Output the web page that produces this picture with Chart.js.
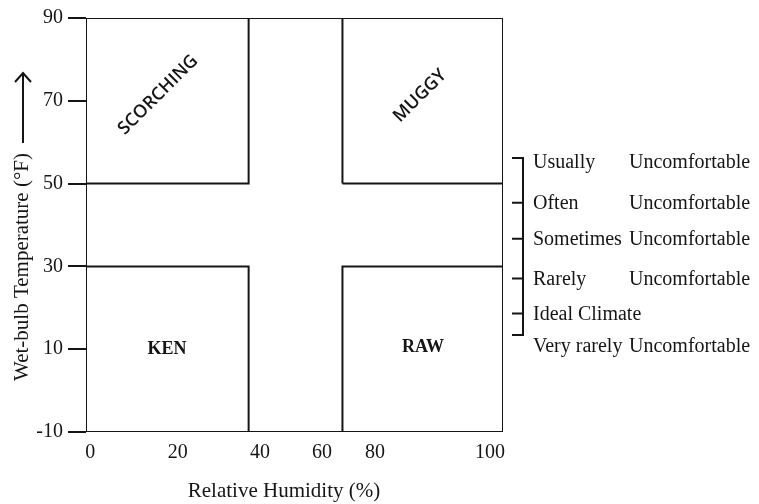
<!DOCTYPE html>
<html>
<head>
<meta charset="utf-8">
<title>Wet-bulb temperature vs relative humidity</title>
<script src="https://cdn.jsdelivr.net/npm/chart.js@4.4.1/dist/chart.umd.min.js"></script>
<style>
  html, body { margin: 0; padding: 0; background: #fff; }
  #chart { display: block; }
</style>
</head>
<body>
<canvas id="chart" width="759" height="504"></canvas>
<script>
// axis ticks
const yTicks = [-10, 10, 30, 50, 70, 90];
const xTickLabels = ["0", "20", "40", "60", "80", "100"];
const xTickPos = [1, 22, 41.7, 56.6, 69.3, 96.9]; // where the labels sit on the drawing

// the four corner zones
const zoneNames = ["SCORCHING", "MUGGY", "KEN", "RAW"];
const zoneX0 = [0, 61.5, 0, 61.5];
const zoneX1 = [39, 100, 39, 100];
const zoneY0 = [50, 50, -10, -10];
const zoneY1 = [90, 90, 30, 30];
const zoneLabelX = [17.3, 80.1, 19.4, 80.8];
const zoneLabelY = [71.4, 71.2, 10, 10.4];

// comfort scale on the right
const comfortFirst = ["Usually", "Often", "Sometimes", "Rarely", "Ideal Climate", "Very rarely"];
const comfortSecond = ["Uncomfortable", "Uncomfortable", "Uncomfortable", "Uncomfortable", "", "Uncomfortable"];
const comfortLevels = [55.3, 45.4, 36.7, 27.1, 18.6, 11.0];
const bracketTicks = [56.2, 45.4, 36.7, 27.1, 18.6, 13.4];

const INK = "#151515";
const SERIF = '"Liberation Serif", "Times New Roman", serif';
const SANS = '"Open Sans", "Noto Sans", sans-serif';

function rect(x0, x1, y0, y1) {
  return [
    { x: x0, y: y0 }, { x: x1, y: y0 }, { x: x1, y: y1 },
    { x: x0, y: y1 }, { x: x0, y: y0 }
  ];
}

const lineStyle = {
  showLine: true,
  fill: false,
  borderColor: INK,
  borderWidth: 2,
  pointRadius: 0,
  tension: 0
};

const datasets = [
  Object.assign({ label: "frame", data: rect(0, 100, -10, 90) }, lineStyle)
].concat(zoneNames.map((name, i) =>
  Object.assign({ label: name, data: rect(zoneX0[i], zoneX1[i], zoneY0[i], zoneY1[i]) }, lineStyle)
));

// zone names, y-axis arrow and the comfort bracket
const annotations = {
  id: "annotations",
  afterDraw(chart) {
    const { ctx, chartArea, scales: { x, y } } = chart;
    ctx.save();
    ctx.fillStyle = INK;
    ctx.strokeStyle = INK;

    zoneNames.forEach((name, i) => {
      const tilted = zoneY0[i] >= 50;
      ctx.save();
      ctx.translate(x.getPixelForValue(zoneLabelX[i]), y.getPixelForValue(zoneLabelY[i]));
      if (tilted) ctx.rotate(-Math.PI / 4);
      ctx.font = tilted ? "600 18px " + SANS : "bold 18px " + SERIF;
      ctx.textAlign = "center";
      ctx.textBaseline = "middle";
      ctx.fillText(name, 0, 0);
      ctx.restore();
    });

    // arrow after the y title
    const ax = 23;
    const aTop = chartArea.top + 55;
    const aBot = chartArea.top + 125;
    ctx.lineWidth = 2;
    ctx.beginPath();
    ctx.moveTo(ax, aBot);
    ctx.lineTo(ax, aTop);
    ctx.moveTo(ax - 8, aTop + 9);
    ctx.lineTo(ax, aTop);
    ctx.lineTo(ax + 8, aTop + 9);
    ctx.stroke();

    // bracket
    const bx = chartArea.right + 20;
    ctx.beginPath();
    ctx.moveTo(bx, y.getPixelForValue(bracketTicks[0]) - 1);
    ctx.lineTo(bx, y.getPixelForValue(bracketTicks[bracketTicks.length - 1]) + 1);
    bracketTicks.forEach(v => {
      const py = y.getPixelForValue(v);
      ctx.moveTo(bx - 11, py);
      ctx.lineTo(bx + 1, py);
    });
    ctx.stroke();

    ctx.font = "20px " + SERIF;
    ctx.textAlign = "left";
    ctx.textBaseline = "alphabetic";
    comfortFirst.forEach((w, i) => {
      const py = y.getPixelForValue(comfortLevels[i]) + 6.5;
      ctx.fillText(w, chartArea.right + 30, py);
      if (comfortSecond[i]) ctx.fillText(comfortSecond[i], chartArea.right + 126, py);
    });
    ctx.restore();
  }
};

new Chart(document.getElementById("chart"), {
  type: "scatter",
  data: { datasets },
  options: {
    responsive: false,
    animation: false,
    layout: { padding: { top: 18, right: 256, left: 0, bottom: 0 } },
    plugins: {
      legend: { display: false },
      tooltip: { enabled: false }
    },
    scales: {
      x: {
        type: "linear",
        min: 0,
        max: 100,
        afterBuildTicks: s => { s.ticks = xTickPos.map(v => ({ value: v })); },
        afterFit: s => { s.height = 72; },
        grid: { display: false, drawTicks: false },
        border: { display: false },
        ticks: {
          padding: 9,
          maxRotation: 0,
          autoSkip: false,
          color: INK,
          font: { family: SERIF, size: 20 },
          callback: (v, i) => xTickLabels[i]
        },
        title: {
          display: true,
          text: "Relative Humidity (%)\u2003",
          color: INK,
          font: { family: SERIF, size: 21 },
          padding: { top: 2, bottom: 0 }
        }
      },
      y: {
        type: "linear",
        min: -10,
        max: 90,
        afterBuildTicks: s => { s.ticks = yTicks.map(v => ({ value: v })); },
        afterFit: s => { s.width = 86; },
        grid: {
          drawOnChartArea: false,
          drawTicks: true,
          tickLength: 18,
          color: INK,
          lineWidth: 2
        },
        border: { display: false },
        ticks: {
          padding: 5,
          color: INK,
          font: { family: SERIF, size: 20 }
        },
        title: {
          display: true,
          text: "Wet-bulb Temperature (\u00B0F)\u2003\u2003\u2003\u2003",
          color: INK,
          font: { family: SERIF, size: 21 },
          padding: { top: 10, bottom: 0 }
        }
      }
    }
  },
  plugins: [annotations]
});
</script>
</body>
</html>
